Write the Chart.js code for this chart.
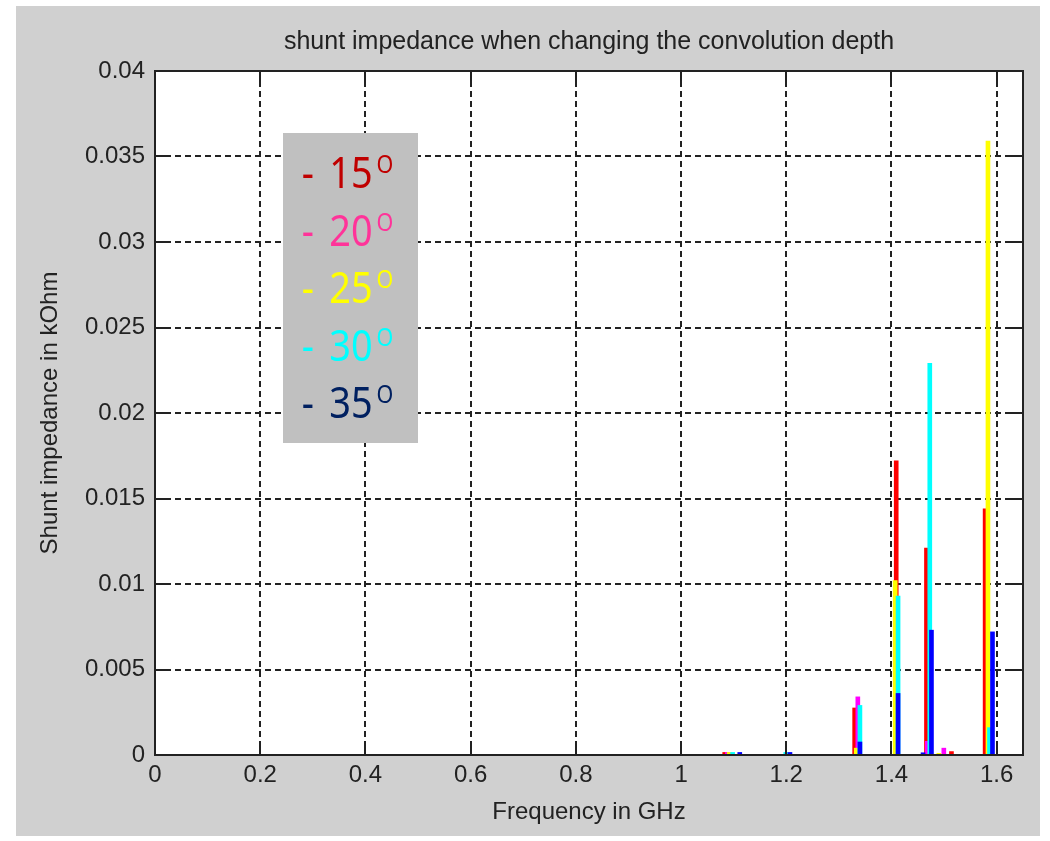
<!DOCTYPE html>
<html>
<head>
<meta charset="utf-8">
<script src="https://cdn.jsdelivr.net/npm/chart.js@4.4.1/dist/chart.umd.min.js"></script>
<style>
  html, body { margin: 0; padding: 0; background: #fff; }
  #frame { position: absolute; left: 16px; top: 6px; width: 1024px; height: 830px; background: #d0d0d0; }
  #wrap { position: absolute; left: 0; top: 0; width: 1050px; height: 841px; }
</style>
</head>
<body>
<div id="frame"></div>
<div id="wrap"><canvas id="chart"></canvas></div>
<script>
// series: convolution depth in degrees
const seriesLabels = ['15', '20', '25', '30', '35'];
const barColors = ['#ff0000', '#ff00ff', '#ffff00', '#00ffff', '#0000ff'];
const legendColors = ['#c00000', '#ff3399', '#ffff00', '#00ffff', '#002060'];

// frequency (GHz) and shunt impedance (kOhm) per series
const freq15 = [1.083, 1.330, 1.409, 1.4665, 1.514, 1.578];
const imp15  = [0.00015, 0.00275, 0.0172, 0.0121, 0.0002, 0.0144];

const freq20 = [1.088, 1.336, 1.468, 1.4995];
const imp20  = [0.00015, 0.0034, 0.0008, 0.0004];

const freq25 = [1.0915, 1.333, 1.407, 1.490, 1.5834];
const imp25  = [0.00015, 0.0004, 0.0102, 0.0001, 0.0359];

const freq30 = [1.098, 1.199, 1.340, 1.4125, 1.4728, 1.5863];
const imp30  = [0.00015, 0.00015, 0.0029, 0.0093, 0.0229, 0.0016];

const freq35 = [1.1116, 1.207, 1.340, 1.4125, 1.460, 1.476, 1.592];
const imp35  = [0.00015, 0.00015, 0.00076, 0.0036, 0.00013, 0.0073, 0.0072];

const xTickValues = [0, 0.2, 0.4, 0.6, 0.8, 1, 1.2, 1.4, 1.6];
const xTickLabels = ['0', '0.2', '0.4', '0.6', '0.8', '1', '1.2', '1.4', '1.6'];
const yTickValues = [0, 0.005, 0.01, 0.015, 0.02, 0.025, 0.03, 0.035, 0.04];
const yTickLabels = ['0', '0.005', '0.01', '0.015', '0.02', '0.025', '0.03', '0.035', '0.04'];

const freqs = [freq15, freq20, freq25, freq30, freq35];
const imps = [imp15, imp20, imp25, imp30, imp35];

const datasets = seriesLabels.map((lab, i) => ({
  label: lab,
  data: freqs[i].map((f, j) => ({ x: f, y: imps[i][j] })),
  backgroundColor: barColors[i],
  borderWidth: 0,
  barThickness: 4,
  grouped: false,
  order: seriesLabels.length - i   // red behind, blue in front
}));

// white plot area, box with inward ticks, and the text legend
const matlabAxes = {
  id: 'matlabAxes',
  beforeDraw(c) {
    const { ctx, chartArea: a } = c;
    ctx.save();
    ctx.fillStyle = '#fff';
    ctx.fillRect(a.left, a.top, a.right - a.left, a.bottom - a.top);
    ctx.restore();
  },
  afterDraw(c) {
    const { ctx, chartArea: a, scales } = c;
    ctx.save();
    ctx.strokeStyle = '#222';
    ctx.lineWidth = 2;
    const tl = 12;
    ctx.beginPath();
    xTickValues.forEach(v => {
      const px = Math.round(scales.x.getPixelForValue(v));
      ctx.moveTo(px, a.bottom); ctx.lineTo(px, a.bottom - tl);
      ctx.moveTo(px, a.top); ctx.lineTo(px, a.top + tl);
    });
    yTickValues.forEach(v => {
      const py = Math.round(scales.y.getPixelForValue(v));
      ctx.moveTo(a.left, py); ctx.lineTo(a.left + tl, py);
      ctx.moveTo(a.right, py); ctx.lineTo(a.right - tl, py);
    });
    ctx.stroke();
    ctx.strokeRect(a.left, a.top, a.right - a.left, a.bottom - a.top);

    // legend box
    ctx.fillStyle = '#c0c0c0';
    ctx.fillRect(283, 133, 135, 310);
    seriesLabels.forEach((lab, i) => {
      const base = 188 + i * 57.5;
      ctx.save();
      ctx.translate(300, base);
      ctx.scale(0.86, 1);
      ctx.fillStyle = legendColors[i];
      ctx.textBaseline = 'alphabetic';
      ctx.font = '44px "Noto Sans"';
      ctx.fillText('-', 2, 0);
      ctx.fillText(lab, 34, 0);
      ctx.font = '25px "Noto Sans"';
      ctx.fillText('O', 89, -15);
      ctx.restore();
    });
    ctx.restore();
  }
};

const tickFont = { family: '"Liberation Sans", Arial, sans-serif', size: 24 };
const labelFont = { family: '"Liberation Sans", Arial, sans-serif', size: 24 };

new Chart(document.getElementById('chart'), {
  type: 'bar',
  data: { datasets },
  plugins: [matlabAxes],
  options: {
    responsive: true,
    maintainAspectRatio: false,
    animation: false,
    layout: { padding: { left: 16, right: 27, top: 0, bottom: 0 } },
    plugins: {
      legend: { display: false },
      tooltip: { enabled: false },
      title: {
        display: true,
        text: 'shunt impedance when changing the convolution depth',
        fullSize: false,
        color: '#222',
        font: { family: '"Liberation Sans", Arial, sans-serif', size: 25, weight: 'normal' },
        padding: { top: 27, bottom: 14 }
      }
    },
    scales: {
      x: {
        type: 'linear',
        min: 0,
        max: 1.65,
        offset: false,
        z: 1,
        afterBuildTicks: s => { s.ticks = xTickValues.map(v => ({ value: v })); },
        afterFit: s => { s.height = 86; },
        ticks: {
          color: '#222',
          font: tickFont,
          padding: 6,
          maxRotation: 0,
          autoSkip: false,
          callback: (v, i) => xTickLabels[i]
        },
        grid: { color: '#222', lineWidth: 2, drawTicks: false, offset: false },
        border: { display: false, dash: [6, 4] },
        title: {
          display: true,
          text: 'Frequency in GHz',
          color: '#222',
          font: labelFont,
          padding: { top: 0, bottom: 14 }
        }
      },
      y: {
        min: 0,
        max: 0.04,
        afterBuildTicks: s => { s.ticks = yTickValues.map(v => ({ value: v })); },
        afterFit: s => { s.width = 139; },
        ticks: {
          color: '#222',
          font: tickFont,
          padding: 10,
          autoSkip: false,
          callback: (v, i) => yTickLabels[i]
        },
        grid: { color: '#222', lineWidth: 2, drawTicks: false },
        border: { display: false, dash: [6, 4] },
        title: {
          display: true,
          text: 'Shunt impedance in kOhm',
          color: '#222',
          font: labelFont,
          padding: { top: 20, bottom: 0 }
        }
      }
    }
  }
});
</script>
</body>
</html>
